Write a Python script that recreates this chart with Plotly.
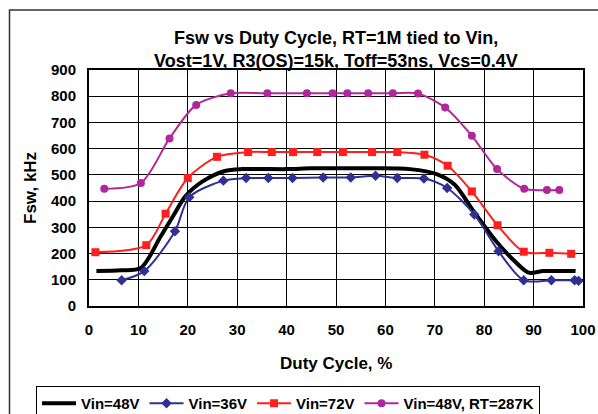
import plotly.graph_objects as go

# Vin=48V (smooth black line, no markers)
x_48 = [1.5, 6.5, 10.5, 14.5, 17.0, 19.5, 23.0, 27.5, 31.0, 40.0, 45.0, 50.0, 57.0, 65.0, 70.5, 74.0, 78.0, 82.5, 86.5, 89.0, 92.0, 98.5]
y_48 = [133, 136, 145, 265, 342, 418, 475, 515, 522, 522, 525, 525, 525, 522, 502, 463, 357, 245, 165, 127, 133, 133]

# Vin=36V (blue diamonds)
x_36 = [6.6, 11.2, 17.4, 20.3, 27.2, 31.8, 36.3, 41.2, 47.4, 53.0, 58.0, 62.4, 67.8, 72.5, 78.0, 82.9, 88.0, 93.6, 98.3, 99.1]
y_36 = [98, 133, 285, 415, 478, 488, 488, 488, 490, 490, 497, 488, 486, 450, 349, 209, 98, 98, 98, 96]

# Vin=72V (red squares)
x_72 = [1.3, 11.6, 15.5, 20.0, 25.9, 32.2, 37.0, 41.3, 46.2, 51.4, 57.3, 62.4, 67.9, 72.6, 77.5, 82.7, 88.0, 93.2, 97.6]
y_72 = [205, 232, 352, 488, 569, 587, 587, 587, 587, 587, 587, 587, 577, 535, 437, 308, 207, 203, 199]

# Vin=48V, RT=287K (magenta circles)
x_rt = [3.1, 10.5, 16.3, 21.7, 28.7, 36.1, 44.1, 49.3, 52.3, 56.5, 61.5, 66.6, 72.1, 77.5, 82.6, 88.1, 92.7, 95.2]
y_rt = [447, 469, 639, 767, 811, 811, 811, 811, 811, 811, 811, 810, 757, 649, 522, 447, 442, 442]

x_ticks = [0, 10, 20, 30, 40, 50, 60, 70, 80, 90, 100]
y_ticks = [0, 100, 200, 300, 400, 500, 600, 700, 800, 900]

title_1 = "Fsw vs Duty Cycle, RT=1M tied to Vin,"
title_2 = "Vost=1V, R3(OS)=15k, Toff=53ns, Vcs=0.4V"
x_title = "Duty Cycle, %"
y_title = "Fsw, kHz"

FONT = "Liberation Sans, Arial, sans-serif"
BLUE = "#2E3192"
RED = "#FF1F1F"
MAG = "#B0279A"

# plot-area pixel geometry
L, R, T, B = 89, 583, 70, 306
PW, PH = R - L, B - T


def px_x(px):
    return (px - L) / PW


def px_y(py):
    return (B - py) / PH


x_min, x_max = x_ticks[0], x_ticks[-1]
y_min, y_max = y_ticks[0], y_ticks[-1]

fig = go.Figure()
fig.add_trace(go.Scatter(x=x_48, y=y_48, mode="lines", name="Vin=48V",
                         line=dict(color="black", width=4, shape="spline", smoothing=0.8)))
fig.add_trace(go.Scatter(x=x_36, y=y_36, mode="lines+markers", name="Vin=36V",
                         line=dict(color=BLUE, width=2, shape="spline", smoothing=0.8),
                         marker=dict(symbol="diamond", size=8, color=BLUE)))
fig.add_trace(go.Scatter(x=x_72, y=y_72, mode="lines+markers", name="Vin=72V",
                         line=dict(color=RED, width=2, shape="spline", smoothing=0.8),
                         marker=dict(symbol="square", size=8, color=RED)))
fig.add_trace(go.Scatter(x=x_rt, y=y_rt, mode="lines+markers", name="Vin=48V, RT=287K",
                         line=dict(color=MAG, width=2, shape="spline", smoothing=0.8),
                         marker=dict(symbol="circle", size=8, color=MAG)))

axis_common = dict(showgrid=True, gridcolor="black", gridwidth=1,
                   showline=True, linecolor="black", linewidth=2, mirror=True,
                   zeroline=False, ticks="outside", tickcolor="rgba(0,0,0,0)",
                   tickfont=dict(family=FONT, size=15, color="black", weight="bold"))

fig.update_xaxes(range=[x_min, x_max], tickmode="array", tickvals=x_ticks, ticklen=9, **axis_common)
fig.update_yaxes(range=[y_min, y_max], tickmode="array", tickvals=y_ticks, ticklen=8, **axis_common)

title_font = dict(family=FONT, size=18, color="black", weight="bold")
axt_font = dict(family=FONT, size=17, color="black", weight="bold")
fig.update_layout(
    template="none",
    width=598, height=414,
    margin=dict(l=L, r=598 - R, t=T, b=414 - B, autoexpand=False),
    paper_bgcolor="white", plot_bgcolor="white",
    showlegend=True,
    legend=dict(orientation="h", x=px_x(36), y=px_y(386), xanchor="left", yanchor="top",
                bordercolor="black", borderwidth=1, bgcolor="white",
                font=dict(family=FONT, size=15, color="black", weight="bold"),
                itemwidth=34, tracegroupgap=0),
    annotations=[
        dict(text=title_1, x=0.5, y=px_y(38), xref="paper", yref="paper", showarrow=False, font=title_font,
             xanchor="center", yanchor="middle"),
        dict(text=title_2, x=0.5, y=px_y(61), xref="paper", yref="paper", showarrow=False, font=title_font,
             xanchor="center", yanchor="middle"),
        dict(text=x_title, x=0.5, y=px_y(363), xref="paper", yref="paper", showarrow=False,
             font=axt_font, xanchor="center", yanchor="middle"),
        dict(text=y_title, x=px_x(30), y=0.5, xref="paper", yref="paper", showarrow=False,
             textangle=-90, font=axt_font, xanchor="center", yanchor="middle"),
    ],
    shapes=[dict(type="rect", xref="paper", yref="paper",
                 x0=px_x(9.5), x1=px_x(615), y0=px_y(430), y1=px_y(10),
                 line=dict(color="#333333", width=1.5), fillcolor="rgba(0,0,0,0)", layer="above")],
)

fig.write_html("out.html", config={"displayModeBar": False},
               post_script="document.body.style.margin='0px';")
